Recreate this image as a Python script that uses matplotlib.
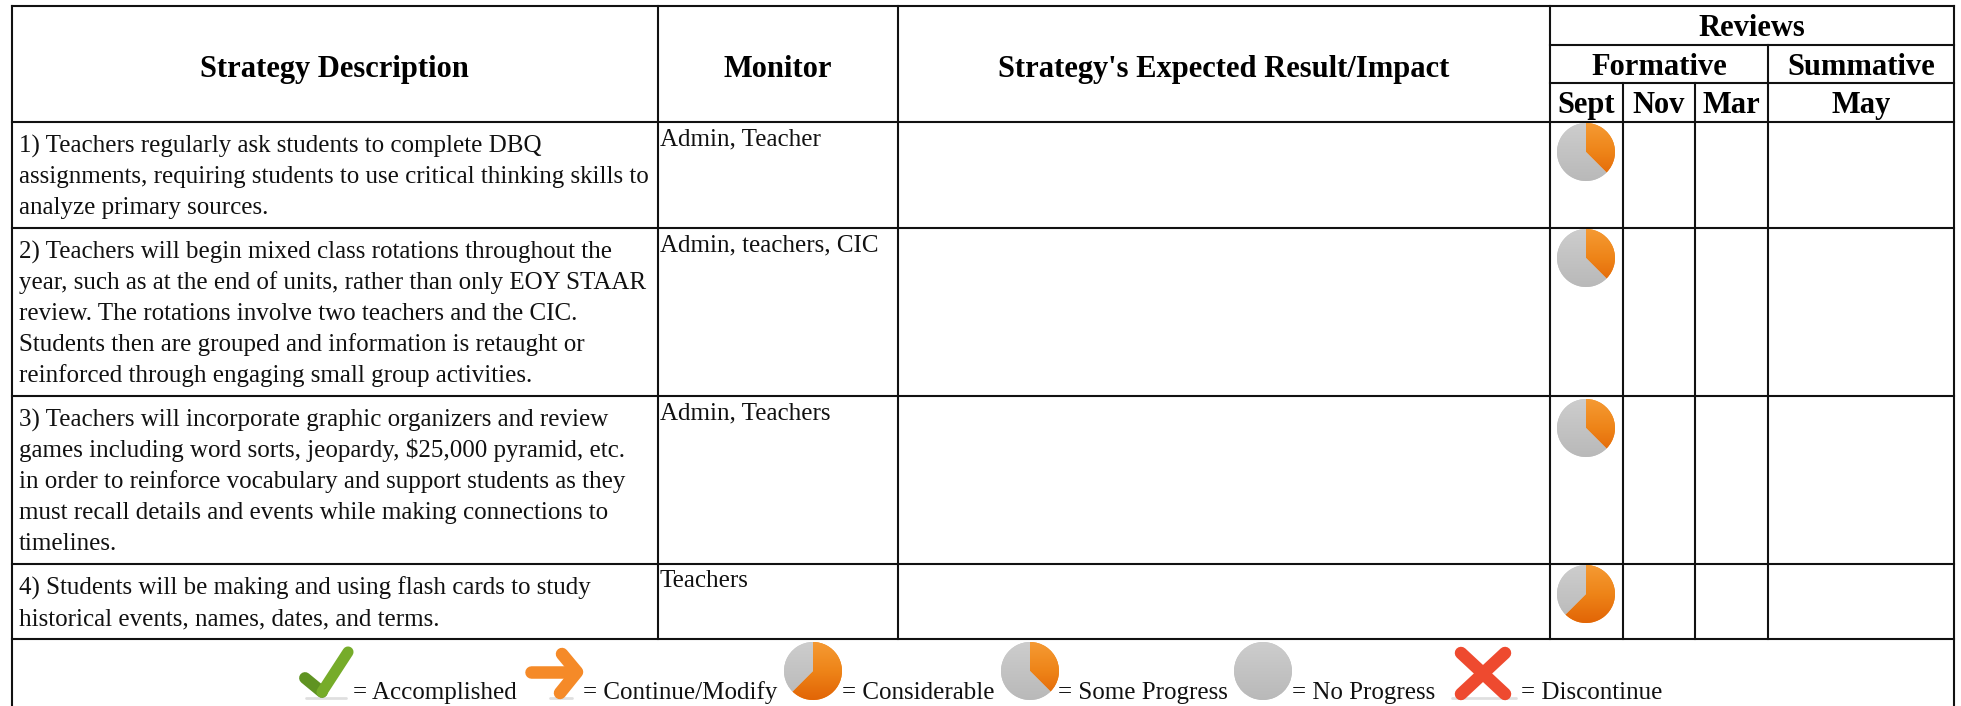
import numpy as np
import matplotlib
matplotlib.use("Agg")
import matplotlib.pyplot as plt
from matplotlib.colors import LinearSegmentedColormap

plt.rcParams['font.family'] = ['Liberation Serif', 'DejaVu Serif']

W, H = 1961, 706

# table content
columns = ["Strategy Description", "Monitor", "Strategy's Expected Result/Impact"]
months = ["Sept", "Nov", "Mar", "May"]
strategies = [
    ["1) Teachers regularly ask students to complete DBQ",
     "assignments, requiring students to use critical thinking skills to",
     "analyze primary sources."],
    ["2) Teachers will begin mixed class rotations throughout the",
     "year, such as at the end of units, rather than only EOY STAAR",
     "review. The rotations involve two teachers and the CIC.",
     "Students then are grouped and information is retaught or",
     "reinforced through engaging small group activities."],
    ["3) Teachers will incorporate graphic organizers and review",
     "games including word sorts, jeopardy, $25,000 pyramid, etc.",
     "in order to reinforce vocabulary and support students as they",
     "must recall details and events while making connections to",
     "timelines."],
    ["4) Students will be making and using flash cards to study",
     "historical events, names, dates, and terms."],
]
monitors = ["Admin, Teacher", "Admin, teachers, CIC", "Admin, Teachers", "Teachers"]
sept_progress = [0.375, 0.375, 0.375, 0.625]

legend_labels = ["= Accomplished", "= Continue/Modify", "= Considerable",
                 "= Some Progress", "= No Progress", "= Discontinue"]
legend_progress = [0.625, 0.375, 0.0]

# grid layout, in pixels
col_x = [12, 658, 898, 1550, 1623, 1695, 1768, 1954]
row_y = [122, 228, 396, 564, 639]
head_y = [6, 45, 83, 122]

fig = plt.figure(figsize=(W / 100, H / 100), dpi=100)
ax = fig.add_axes([0, 0, 1, 1])
ax.set_xlim(0, W)
ax.set_ylim(H, 0)
ax.axis("off")

grid = dict(color="#111111", lw=1.5, solid_capstyle="projecting", zorder=3)
ax.plot([col_x[0], col_x[-1]], [head_y[0]] * 2, **grid)
for y in head_y[1:3]:
    ax.plot([col_x[3], col_x[-1]], [y, y], **grid)
for y in row_y:
    ax.plot([col_x[0], col_x[-1]], [y, y], **grid)
for x in [col_x[0], col_x[-1]]:
    ax.plot([x, x], [head_y[0], H], **grid)
for x in col_x[1:4]:
    ax.plot([x, x], [head_y[0], row_y[-1]], **grid)
for x in col_x[4:6]:
    ax.plot([x, x], [head_y[2], row_y[-1]], **grid)
ax.plot([col_x[6]] * 2, [head_y[1], row_y[-1]], **grid)

head = dict(fontsize=22, fontweight="bold", ha="center", va="baseline", color="black")
ax.text(334, 77, columns[0], **head)
ax.text(778, 77, columns[1], **head)
ax.text(1224, 77, columns[2], **head)
ax.text(1752, 36, "Reviews", **head)
ax.text(1659, 75, "Formative", **head)
ax.text(1861, 75, "Summative", **head)
for i, m in enumerate(months):
    ax.text((col_x[3 + i] + col_x[4 + i]) / 2, 113, m, **head)

# body rows
body = dict(fontsize=18, ha="left", va="baseline", color="#111111")
line_h = 30.8
for i, lines in enumerate(strategies):
    for j, s in enumerate(lines):
        ax.text(19, row_y[i] + 30.5 + j * line_h, s, **body)
    ax.text(col_x[1] + 2, row_y[i] + 23, monitors[i], **body)

orange = LinearSegmentedColormap.from_list("o", ["#f59a33", "#ee8418", "#e26506"])
grey = LinearSegmentedColormap.from_list("g", ["#cdcdcd", "#b9b9b9"])


def pie_icon(cx, cy, d, frac):
    a = fig.add_axes([(cx - d / 2) / W, 1 - (cy + d / 2) / H, d / W, d / H])
    grad = np.linspace(0, 1, 64).reshape(-1, 1)
    wedges, _ = a.pie([frac, 1 - frac] if frac > 0 else [1], startangle=90, counterclock=False,
                      radius=1, colors=["#ee8418", "#c4c4c4"] if frac > 0 else ["#c4c4c4"])
    a.set_xlim(-1, 1)
    a.set_ylim(-1, 1)
    a.set_aspect("auto")
    for w, cm in zip(wedges, [orange, grey] if frac > 0 else [grey]):
        im = a.imshow(grad, extent=[-1, 1, -1, 1], cmap=cm, aspect="auto", zorder=2)
        im.set_clip_path(w)
    a.axis("off")


pie_y = [152, 258, 428, 594]
for y, p in zip(pie_y, sept_progress):
    pie_icon(1586, y, 58, p)

# legend row
base = 699
leg = dict(fontsize=18, ha="left", va="baseline", color="#111111")
for x, s in zip([353, 583, 842, 1058, 1292, 1521], legend_labels):
    ax.text(x, base, s, **leg)
for x, p in zip([813, 1030, 1263], legend_progress):
    pie_icon(x, 671, 58, p)

# shadows under the icons
for xs in ([306, 346], [550, 572], [1452, 1516]):
    ax.plot(xs, [698, 698], color="#d8d8d8", lw=2, alpha=0.8, solid_capstyle="round")

# check, arrow and cross
ax.plot([305, 322], [678, 692], color="#5f9322", lw=8.5, solid_capstyle="round")
ax.plot([322, 348], [692, 652], color="#76ac2a", lw=8, solid_capstyle="round")
ax.plot([531, 574], [672, 672], color="#f58a28", lw=9, solid_capstyle="round")
ax.plot([562, 577, 560], [654, 672, 693], color="#f58a28", lw=9,
        solid_capstyle="round", solid_joinstyle="round")
ax.plot([1461, 1505], [653, 694], color="#ee4a2f", lw=9, solid_capstyle="round")
ax.plot([1505, 1461], [653, 694], color="#ee4a2f", lw=9, solid_capstyle="round")

fig.savefig("out.png", dpi=100, facecolor="white")
